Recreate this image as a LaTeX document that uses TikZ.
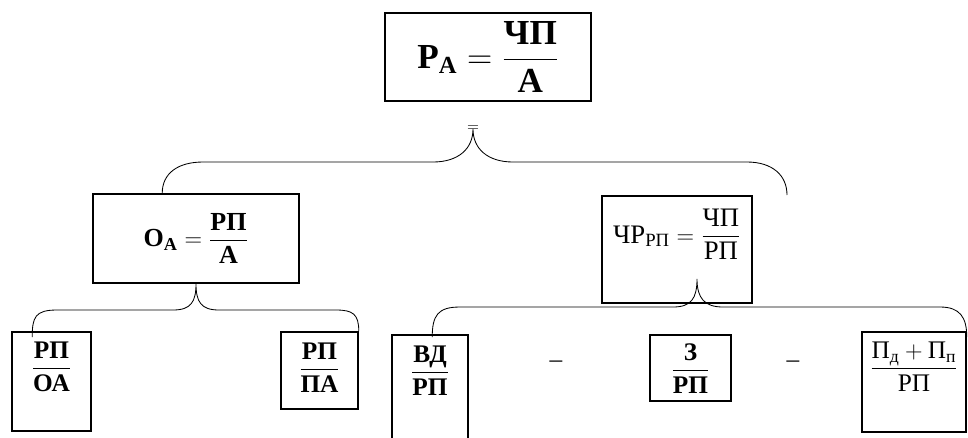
\documentclass[tikz,border=0pt]{standalone}
\usepackage{amsmath}
\usepackage{fontspec}
\setmainfont{Liberation Serif}
\usetikzlibrary{calc}

\newcommand{\pxu}{0.025cm}
\tikzset{
  box/.style={draw,line width=1.1pt,inner sep=0pt},
  brace/.style={line width=0.6pt},
  bigf/.style={font=\fontsize{25}{29}\selectfont\bfseries},
  midf/.style={font=\fontsize{18.5}{22}\selectfont\bfseries},
  lowf/.style={font=\fontsize{18}{21}\selectfont\bfseries},
  thinf/.style={font=\fontsize{18}{21}\selectfont}
}

\begin{document}
\begin{tikzpicture}[x=0.025cm,y=-0.025cm]
  \useasboundingbox (0,0) rectangle (968,437);

  % upper row
  \node[box,bigf,minimum width=206*\pxu,minimum height=88*\pxu] (ra) at (488,57)
    {$\text{Р}_{\text{А}}=\dfrac{\text{ЧП}}{\text{А}}$};
  \node[inner sep=0pt,font=\fontsize{11}{11}\selectfont] (eq) at (473,129) {$=$};

  % middle row
  \node[box,midf,minimum width=206*\pxu,minimum height=89*\pxu] (oa) at (196,238.5)
    {$\text{О}_{\text{А}}=\dfrac{\text{РП}}{\text{А}}$};
  \node[box,font=\fontsize{19}{22}\selectfont,minimum width=150*\pxu,
    text height=47*\pxu,text depth=60*\pxu,anchor=base] (chr) at (677,243)
    {$\text{ЧР}_{\text{РП}}=\dfrac{\text{ЧП}}{\text{РП}}$};

  % lower row
  \node[box,lowf,minimum width=79*\pxu,text height=43*\pxu,text depth=56*\pxu,
    anchor=base] (b1) at (51.5,375) {$\dfrac{\text{РП}}{\text{ОА}}$};
  \node[box,lowf,minimum width=77*\pxu,text height=44*\pxu,text depth=33*\pxu,
    anchor=base] (b2) at (319.5,376) {$\dfrac{\text{РП}}{\text{ПА}}$};
  \node[box,lowf,minimum width=76*\pxu,text height=44*\pxu,text depth=81*\pxu,
    anchor=base] (vd) at (430,379) {$\dfrac{\text{ВД}}{\text{РП}}$};
  \node[box,lowf,minimum width=81*\pxu,text height=42*\pxu,text depth=24*\pxu,
    anchor=base] (zz) at (690.5,377) {$\dfrac{\text{З}}{\text{РП}}$};
  \node[box,thinf,minimum width=104*\pxu,text height=43*\pxu,text depth=57*\pxu,
    anchor=base] (pd) at (914,375)
    {$\dfrac{\text{П}_{\text{д}}+\text{П}_{\text{п}}}{\text{РП}}$};
  \node[thinf] (m1) at (556,364) {–};
  \node[thinf] (m2) at (793,364) {–};

  \coordinate (endA) at (787,195);
  \coordinate (tipB) at ($(chr.south)+(20,-25)$);

  % braces
  \draw[brace] ($(oa.north west)+(70,0)$) .. controls +(0,-20) and +(-25,0) .. (203,162)
    -- (433,162) .. controls +(25,0) and +(0,20) .. (eq.center)
    .. controls +(0,20) and +(-25,0) .. (513,162)
    -- (747,162) .. controls +(25,0) and +(0,-20) .. (endA);
  \draw[brace] ($(b1.north west)+(21,6)$) .. controls +(0,-20) and +(-22,0) .. (57,310)
    -- (173,310) .. controls +(18,0) and +(0,18) .. (oa.south)
    .. controls +(0,18) and +(-18,0) .. (219,310)
    -- (336,310) .. controls +(17,0) and +(0,-17) .. (b2.north east);
  \draw[brace] ($(vd.north west)+(41,3)$) .. controls +(0,-22) and +(-22,0) .. (460,307)
    -- (673,307) .. controls +(18,0) and +(0,20) .. (tipB)
    .. controls +(0,20) and +(-18,0) .. (723,307)
    -- (940,307) .. controls +(20,0) and +(0,-20) .. ($(pd.north east)+(0,6)$);
\end{tikzpicture}
\end{document}
